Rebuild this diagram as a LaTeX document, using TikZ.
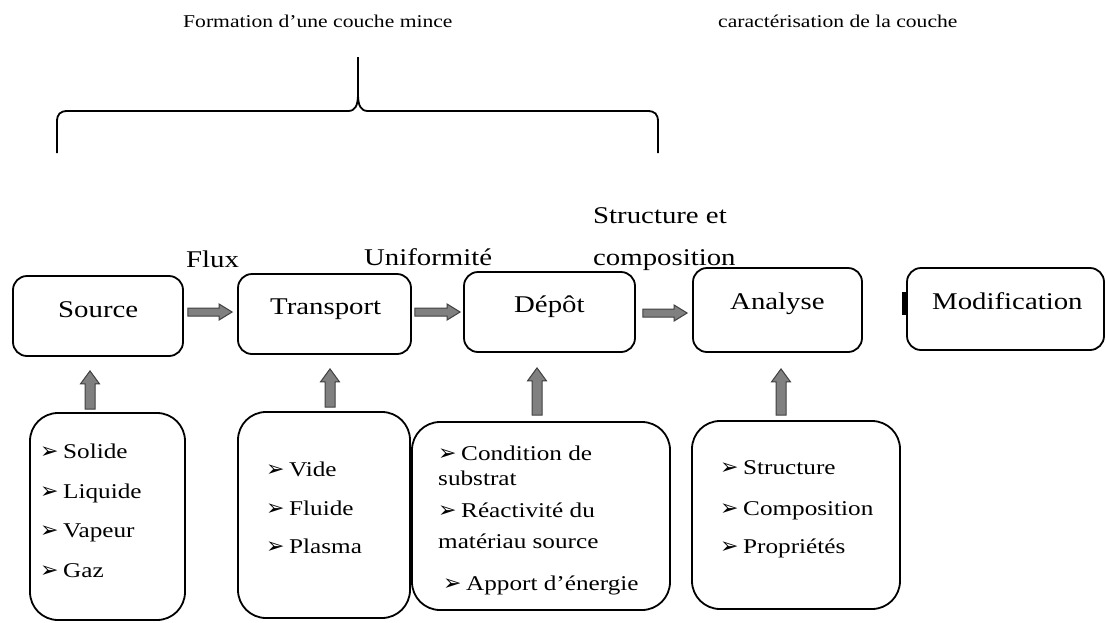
\documentclass[tikz,border=0pt]{standalone}
\usepackage{fontspec}
\setmainfont[FakeStretch=1.2]{Liberation Serif}
\newfontfamily\arrowfont{DejaVu Sans}
\usetikzlibrary{calc}
\newcommand\itm{\makebox[23pt][l]{\arrowfont\fontsize{22}{22}\selectfont ➢}}
\tikzset{
  topbox/.style={draw, line width=1.8pt, rounded corners=14pt, inner sep=0pt},
  botbox/.style={draw, line width=1.8pt, rounded corners=28pt, inner sep=0pt},
  lbl/.style={anchor=base west, inner sep=0pt, font=\fontsize{24}{24}\selectfont},
  itemtxt/.style={anchor=base west, inner sep=0pt, font=\fontsize{21}{21}\selectfont},
  head/.style={anchor=base west, inner sep=0pt, font=\fontsize{18}{18}\selectfont},
  brace/.style={draw, line width=1.8pt},
  hfat/.style={draw=black!75, fill=black!50, line width=1pt,
    to path={let \p1=(\tikztostart), \p2=(\tikztotarget) in
      (\x1,\y1+4pt) -- (\x2-13pt,\y1+4pt) -- (\x2-13pt,\y1+8pt) -- (\x2,\y1)
      -- (\x2-13pt,\y1-8pt) -- (\x2-13pt,\y1-4pt) -- (\x1,\y1-4pt) -- cycle}},
  vfat/.style={draw=black!75, fill=black!50, line width=1pt,
    to path={let \p1=(\tikztostart), \p2=(\tikztotarget) in
      (\x1-5pt,\y1) -- (\x1-5pt,\y2-13pt) -- (\x1-9.5pt,\y2-13pt) -- (\x1,\y2)
      -- (\x1+9.5pt,\y2-13pt) -- (\x1+5pt,\y2-13pt) -- (\x1+5pt,\y1) -- cycle}}
}
\begin{document}
\begin{tikzpicture}[x=1pt,y=-1pt]
\useasboundingbox (0,0) rectangle (1106,622);

% headings
\node[head] (h1) at (183,27) {Formation d’une couche mince};
\node[head] (h2) at (718,27) {caractérisation de la couche};

% brace
\draw[brace] (57,153) -- (57,122) .. controls (57,114) and (60,111) .. (68,111)
  -- (348,111) .. controls (355,111) and (358,106) .. (358,94) -- (358,57);
\draw[brace] (358,94) .. controls (358,106) and (361,111) .. (368,111)
  -- (647,111) .. controls (655,111) and (658,114) .. (658,122) -- (658,153);

% top boxes
\node[topbox, minimum width=170pt, minimum height=80pt] (src) at (98,316) {};
\node[topbox, minimum width=173pt, minimum height=80pt] (trn) at (324.5,314) {};
\node[topbox, minimum width=171pt, minimum height=80pt] (dep) at (549.5,312) {};
\node[topbox, minimum width=169pt, minimum height=84pt] (ana) at (777.5,310) {};
\node[topbox, minimum width=197pt, minimum height=82pt] (mod) at (1005.5,309) {};
\draw[line width=3.5pt] ([shift={(-2,-17)}]mod.west) -- ([shift={(-2,6)}]mod.west);

\node[lbl] (srct) at (58,317) {Source};
\node[lbl] (trnt) at (270,314) {Transport};
\node[lbl] (dept) at (514,312) {Dépôt};
\node[lbl] (anat) at (730,309) {Analyse};
\node[lbl] (modt) at (932,309) {Modification};

% flow labels
\node[lbl] (flux) at (186,267) {Flux};
\node[lbl] (unif) at (364,265) {Uniformité};
\node[lbl] (stru) at (593,223) {Structure et};
\node[lbl] (comp) at (593,265) {composition};

% bottom boxes
\node[botbox, minimum width=155pt, minimum height=207pt] (b1) at (107.5,516.5) {};
\node[botbox, minimum width=172pt, minimum height=206pt] (b2) at (324,515) {};
\node[botbox, minimum width=258pt, minimum height=188pt] (b3) at (541,516) {};
\node[botbox, minimum width=208pt, minimum height=188pt] (b4) at (796,515) {};

% horizontal arrows
\draw[hfat] ([shift={(4,-4)}]src.east) to ([shift={(-5,-2)}]trn.west);
\draw[hfat] ([shift={(3,-2)}]trn.east) to ([shift={(-3,0)}]dep.west);
\draw[hfat] ([shift={(7,1)}]dep.east) to ([shift={(-5,3)}]ana.west);

% vertical arrows
\draw[vfat] ([shift={(-17.5,-3)}]b1.north) to ([shift={(-8,14)}]src.south);
\draw[vfat] ([shift={(6,-4)}]b2.north) to ([shift={(5.5,14)}]trn.south);
\draw[vfat] ([shift={(-4,-6)}]b3.north) to ([shift={(-12.5,15)}]dep.south);
\draw[vfat] ([shift={(-15,-5)}]b4.north) to ([shift={(3.5,16)}]ana.south);

% list items
\node[itemtxt] (i11) at (40,458) {\itm Solide};
\node[itemtxt] (i12) at (40,498) {\itm Liquide};
\node[itemtxt] (i13) at (40,537) {\itm Vapeur};
\node[itemtxt] (i14) at (40,577) {\itm Gaz};

\node[itemtxt] (i21) at (266,476) {\itm Vide};
\node[itemtxt] (i22) at (266,515) {\itm Fluide};
\node[itemtxt] (i23) at (266,553) {\itm Plasma};

\node[itemtxt] (i31) at (438,460) {\itm Condition de};
\node[itemtxt] (i32) at (438,485) {substrat};
\node[itemtxt] (i33) at (438,517) {\itm Réactivité du};
\node[itemtxt] (i34) at (438,548) {matériau source};
\node[itemtxt] (i35) at (443,590) {\itm Apport d’énergie};

\node[itemtxt] (i41) at (720,474) {\itm Structure};
\node[itemtxt] (i42) at (720,515) {\itm Composition};
\node[itemtxt] (i43) at (720,553) {\itm Propriétés};
\end{tikzpicture}
\end{document}
